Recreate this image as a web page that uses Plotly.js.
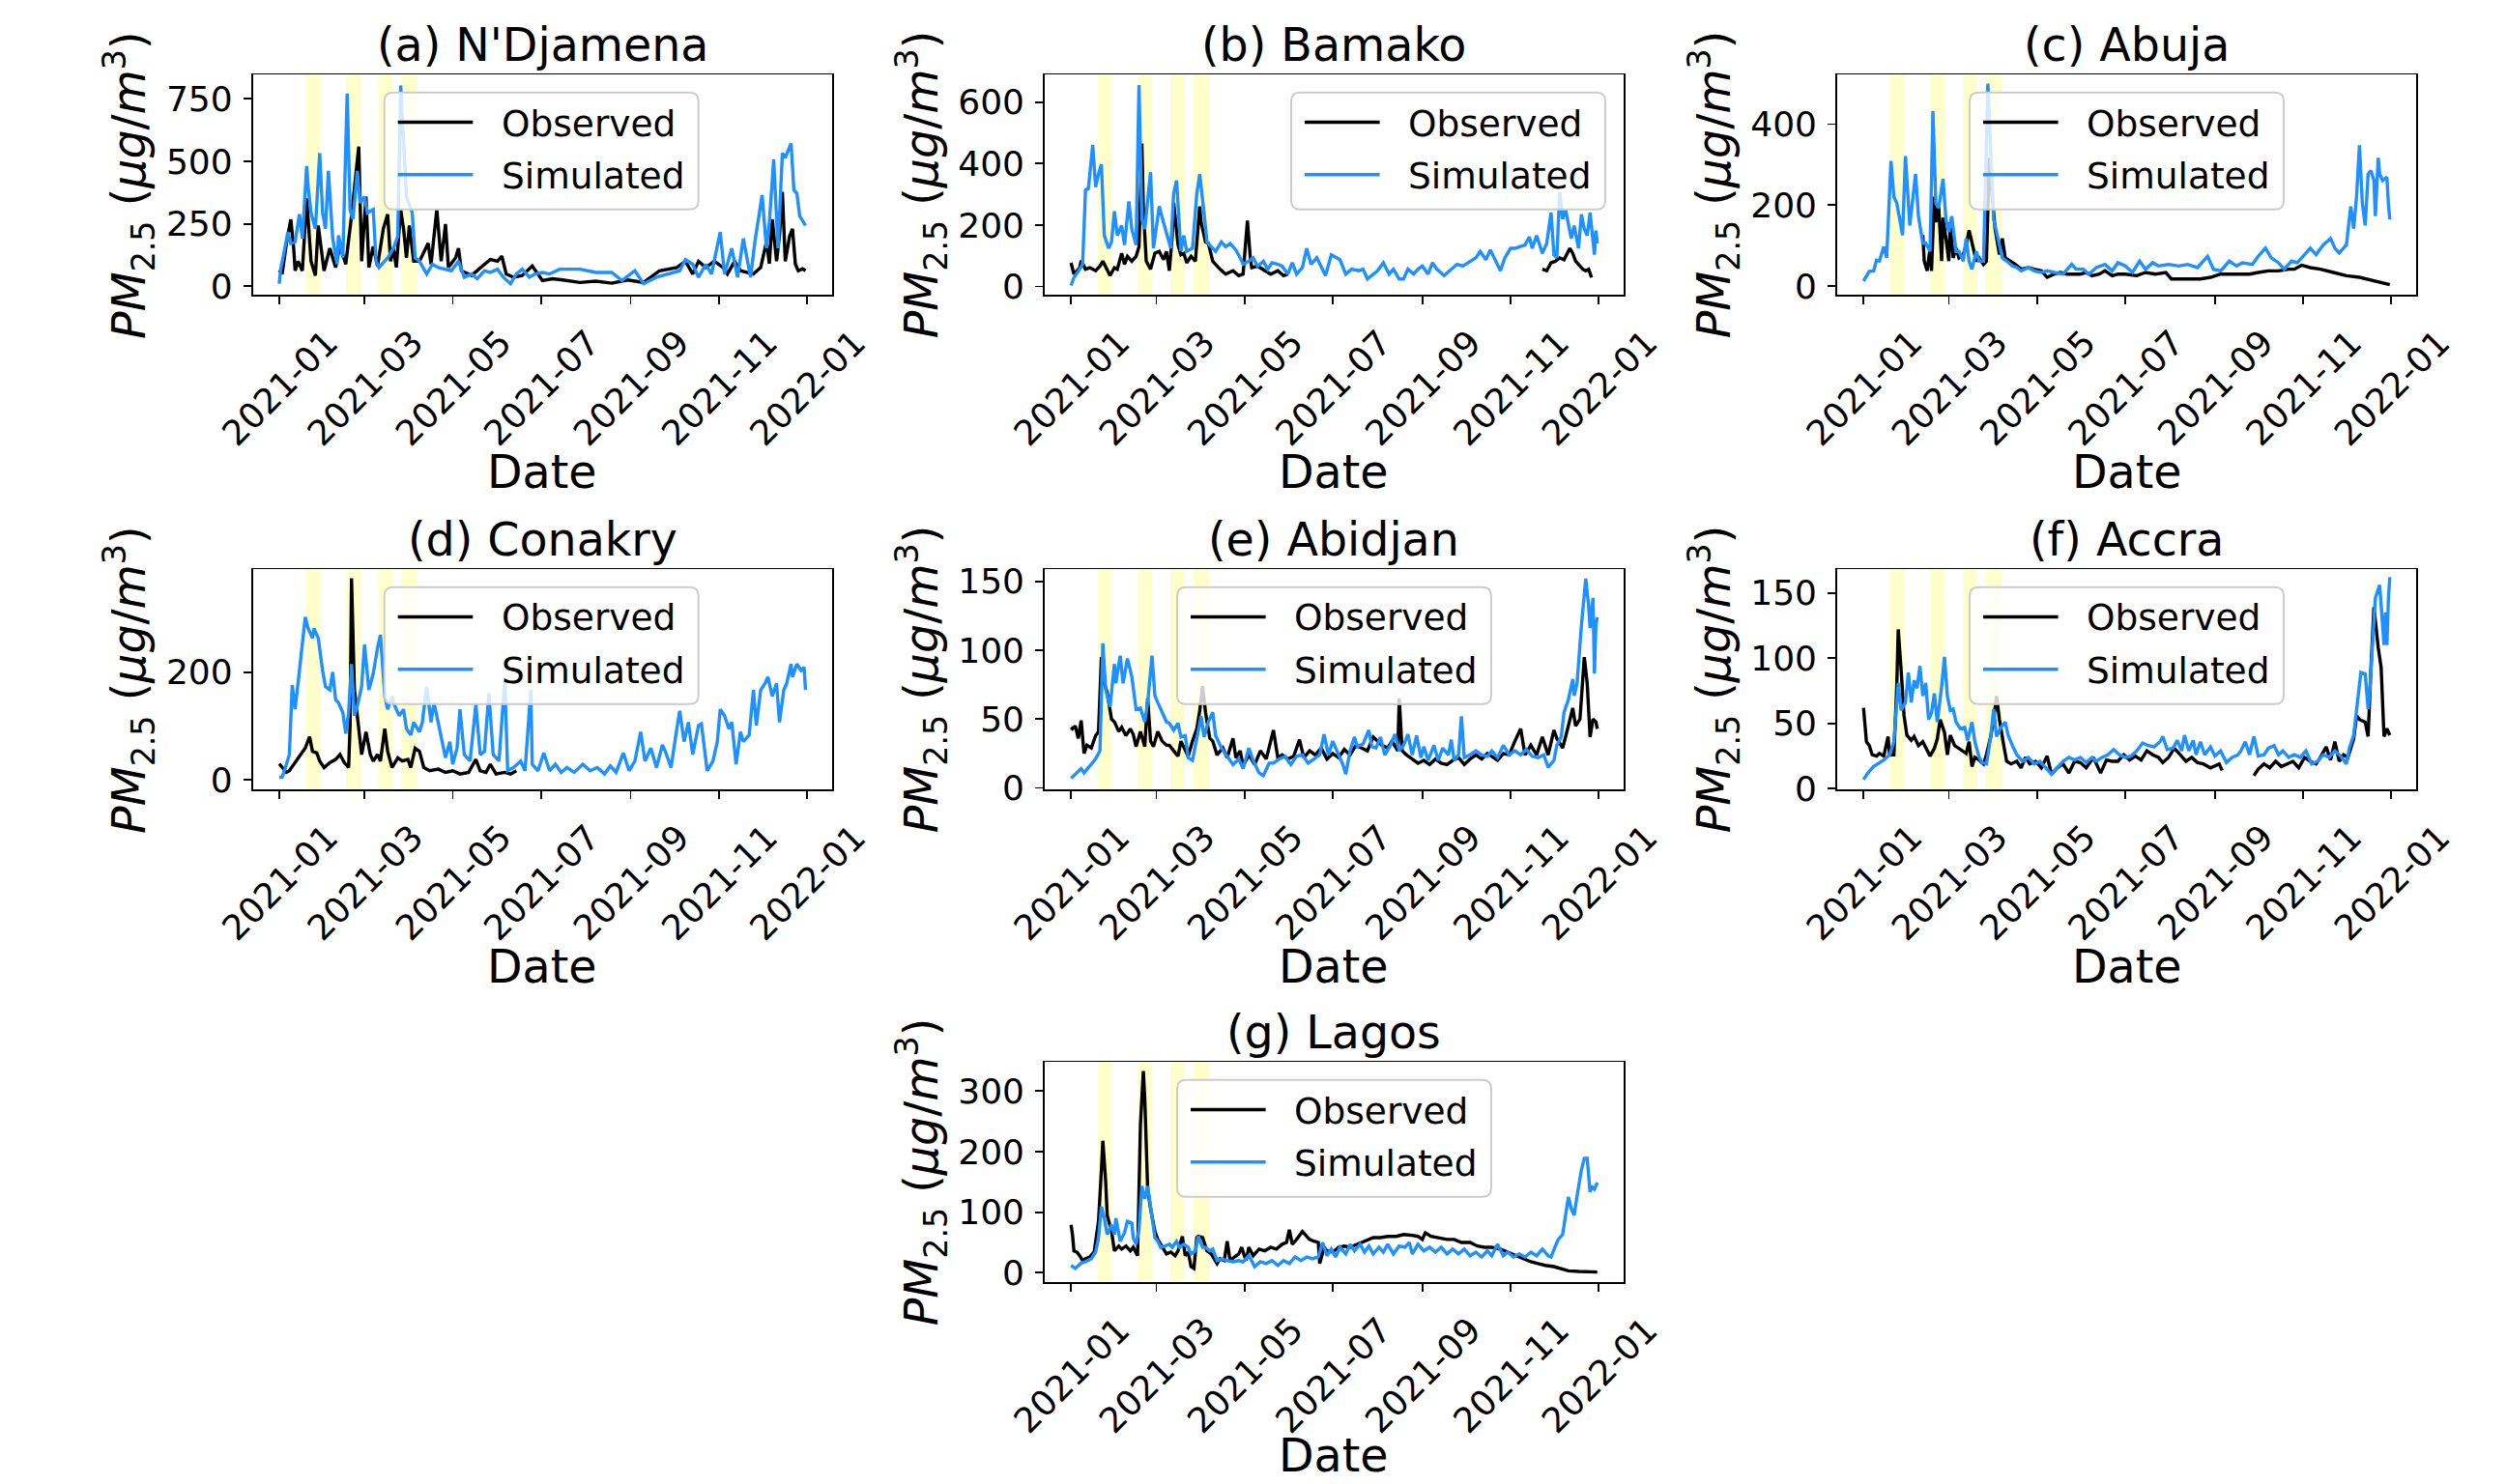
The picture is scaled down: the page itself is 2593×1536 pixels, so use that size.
<!DOCTYPE html>
<html><head><meta charset="utf-8">
<script src="https://cdn.plot.ly/plotly-3.0.1.min.js"></script>
<style>html,body{margin:0;padding:0;background:#fff}#chart{width:2593px;height:1536px}</style>
</head><body><div id="chart"></div>
<script>
// ---------------- DATA (day index counted from 2021-01-01) ----------------
const panelTitles = ["(a) N'Djamena","(b) Bamako","(c) Abuja","(d) Conakry","(e) Abidjan","(f) Accra","(g) Lagos"];
const seriesNames = ["Observed","Simulated"];
const xTickVals = ["2021-01-01","2021-03-01","2021-05-01","2021-07-01","2021-09-01","2021-11-01","2022-01-01"];
const xTickText = ["2021-01","2021-03","2021-05","2021-07","2021-09","2021-11","2022-01"];
const yTicksA = [0,250,500,750];
const yTicksB = [0,200,400,600];
const yTicksC = [0,200,400];
const yTicksD = [0,200];
const yTicksE = [0,50,100,150];
const yTicksF = [0,50,100,150];
const yTicksG = [0,100,200,300];
const bandStartDay = [18.5,46.5,68.7,84.4];
const bandEndDay = [28.3,56.3,78.5,95.5];

const aObsDay = [0,2,5,8,10,11,13,16,19,22,25,27,29,31,35,39,42,46,50,55,57,60,62,65,68,72,75,77,79,81,84,86,88,90,93,97,103,105,109,112,115,117,122,124,126,133,142,146,151,154,157,162,168,175,182,189,196,208,219,230,241,252,263,275,281,286,290,295,301,307,310,315,319,328,333,337,339,341,344,346,348,350,353,355,357,359,362,364];
const aObsVal = [65,49,172,268,152,62,100,62,352,100,43,243,152,62,152,75,165,88,281,559,100,359,75,159,81,230,288,100,152,75,307,230,114,243,100,100,172,88,307,100,249,75,114,152,62,43,88,107,100,120,49,36,43,81,23,30,25,15,20,12,25,15,62,75,100,49,100,75,100,75,49,100,62,49,75,178,90,268,100,204,378,100,200,230,88,62,70,62];
const aSimDay = [0,1,3,6,8,11,14,16,19,20,22,25,28,30,32,34,37,40,41,44,47,49,51,54,56,59,61,65,67,69,75,79,82,84,88,92,94,97,102,106,110,115,119,124,128,133,137,142,146,151,155,160,164,168,173,177,182,187,194,208,219,230,237,246,252,261,270,277,281,286,290,295,299,305,308,313,317,321,326,329,334,337,339,342,345,348,350,354,356,358,360,363,364];
const aSimVal = [10,68,126,217,172,178,288,191,481,397,294,230,533,294,230,462,191,88,204,114,772,307,268,462,333,359,294,307,100,75,114,152,200,804,359,294,114,100,49,88,75,68,62,100,36,49,30,62,55,68,36,10,49,68,36,49,55,49,68,68,55,55,23,62,10,36,49,62,107,88,36,88,49,217,49,152,36,191,36,178,365,152,255,507,152,533,514,572,385,372,281,255,243];

const bObsDay = [0,2,6,7,10,13,17,20,22,25,27,30,32,35,37,39,42,45,47,49,50,52,55,58,61,64,66,68,70,71,74,76,78,80,83,86,89,90,93,95,98,103,107,112,116,119,122,124,125,129,134,138,143,147,150,151,326,329,332,335,338,341,345,347,349,352,354,356,358,360];
const bObsVal = [77,40,61,84,56,61,51,66,82,51,35,61,56,108,72,98,82,98,129,466,256,82,56,108,114,87,114,51,166,272,135,103,108,77,98,82,261,208,145,140,82,56,40,51,35,40,214,93,61,66,51,40,51,35,40,null,56,51,77,82,93,87,124,108,82,66,56,51,56,29];
const bSimDay = [0,2,6,8,10,12,15,17,19,21,23,26,28,30,32,35,37,40,42,45,47,49,51,55,57,59,61,64,66,69,71,73,76,78,80,84,87,89,92,94,97,100,104,107,110,114,117,119,123,126,129,133,136,139,143,146,150,153,156,160,163,166,170,173,176,180,186,190,194,199,202,205,209,212,216,220,223,227,230,233,237,240,243,247,250,253,258,262,267,271,276,280,283,287,290,294,297,300,304,307,310,314,317,319,322,326,329,332,334,336,338,340,342,344,346,348,351,353,355,357,359,362,363,364];
const bSimVal = [3,29,56,72,314,319,461,324,366,398,166,124,145,245,166,198,135,277,187,135,656,219,187,372,124,187,261,208,177,124,303,345,114,166,114,124,303,366,240,145,129,114,145,129,140,119,93,72,82,93,66,82,56,77,72,66,40,77,40,61,124,72,93,61,35,103,87,40,56,51,56,24,40,51,77,40,56,24,24,56,40,56,66,40,77,56,35,51,72,66,82,93,114,87,119,82,51,93,124,124,129,135,161,124,166,108,140,240,103,93,308,219,251,198,156,198,124,235,187,166,240,103,182,140];

const cObsDay = [41,42,44,46,47,49,50,52,54,55,57,59,60,62,64,66,69,71,73,76,78,80,83,85,87,89,91,94,96,98,102,105,109,114,118,123,127,132,136,141,145,150,154,158,163,167,172,176,181,189,195,202,209,213,220,227,233,240,247,253,260,267,273,280,287,294,298,303,309,316,325,334,343,352,361,364];
const cObsVal = [126,62,38,94,38,221,158,197,62,169,118,62,158,70,94,70,78,102,138,94,62,70,54,62,317,221,142,78,118,70,62,54,42,46,42,38,22,30,34,30,30,30,34,26,30,38,26,30,30,26,34,30,34,18,18,18,18,22,30,30,30,30,34,38,38,42,42,52,46,42,34,26,22,14,6,4];
const cSimDay = [0,2,4,7,9,11,14,16,19,21,23,27,29,32,36,38,41,43,46,48,50,52,55,57,59,61,64,66,69,71,73,75,78,80,83,86,89,90,93,96,99,103,106,109,114,118,123,127,132,138,144,147,152,156,161,167,172,176,181,186,191,195,200,204,211,218,224,231,238,242,247,253,258,262,269,273,278,282,287,291,296,300,305,309,313,318,323,326,329,334,337,339,341,343,345,347,349,351,353,354,356,357,359,362,363,364];
const cSimVal = [13,26,37,38,64,62,98,70,309,221,205,126,321,150,277,173,106,106,86,432,205,193,265,165,134,173,86,86,62,118,62,42,86,62,62,500,277,165,118,70,62,50,46,38,46,38,34,38,34,30,54,42,42,30,46,54,38,58,50,34,62,42,58,50,54,50,54,46,74,42,38,62,50,58,54,74,94,70,58,42,62,58,78,94,78,102,118,94,82,102,197,142,221,348,205,150,277,285,261,173,317,277,261,269,205,165];

const dObsDay = [0,2,5,7,11,15,18,21,23,26,28,31,35,39,42,45,48,49,50,52,55,57,60,63,65,68,70,73,75,78,82,85,89,91,94,97,100,104,110,115,120,125,131,136,139,143,146,150,156,160,164];
const dObsVal = [30,23,14,17,32,47,59,80,53,50,35,23,32,38,47,32,23,101,374,167,95,47,89,47,35,47,35,95,53,23,41,35,38,23,59,53,23,17,20,14,17,11,14,38,17,14,29,11,14,11,17];
const dSimDay = [0,2,5,7,9,11,13,15,18,20,23,24,27,30,32,35,37,39,41,44,46,48,50,52,54,57,59,62,65,68,70,73,75,78,80,83,86,88,91,93,97,99,102,105,107,109,112,115,118,120,123,125,128,132,136,139,142,145,148,152,156,158,162,167,170,174,175,179,183,187,191,195,199,204,210,215,220,225,229,233,238,242,246,250,253,257,261,265,267,271,275,277,280,283,286,290,292,296,300,303,305,308,311,313,316,319,321,325,328,330,333,336,338,341,344,346,349,351,354,355,358,361,363,364];
const dSimVal = [5,5,29,47,176,131,179,233,302,281,263,281,263,203,173,167,200,149,143,125,86,125,215,119,137,173,251,167,197,245,269,155,131,155,137,119,131,95,83,107,89,107,173,107,143,119,77,41,71,29,59,131,47,35,140,47,53,161,47,35,185,17,23,35,17,167,29,17,50,17,29,14,23,14,29,17,23,11,26,14,50,17,35,89,35,59,23,65,53,23,95,128,71,107,47,101,104,17,35,71,131,119,95,107,29,89,71,83,167,101,167,179,191,155,179,107,167,179,215,191,215,203,209,167];

const eObsDay = [0,1,3,5,7,9,11,14,17,19,21,23,25,28,30,33,35,38,41,43,45,48,51,53,55,57,60,63,66,68,71,74,76,79,81,84,87,89,91,93,96,98,101,105,108,112,114,117,119,123,127,131,135,140,143,146,150,154,158,161,165,169,173,177,181,185,189,193,197,201,205,209,212,215,219,222,226,227,229,232,236,240,244,248,252,256,260,264,268,272,276,280,284,288,291,295,299,303,307,311,314,318,322,326,330,334,336,340,343,347,349,352,355,357,359,361,363,364];
const eObsVal = [44,43,45,36,49,25,31,29,38,41,95,76,69,50,48,41,44,38,43,39,30,41,30,65,34,30,41,34,31,31,27,23,34,27,23,34,43,56,74,55,36,34,24,29,22,36,22,27,16,24,17,27,21,42,22,24,21,23,35,22,27,24,29,21,25,22,28,24,31,29,27,37,34,31,29,34,27,65,27,24,21,18,20,17,21,18,17,20,22,17,21,24,21,25,23,20,25,24,34,43,24,31,24,37,24,42,36,29,41,58,45,50,95,76,37,50,48,43];
const eSimDay = [0,3,7,9,13,17,20,22,24,27,30,31,34,36,39,42,45,48,51,53,56,58,60,63,66,68,71,74,76,79,81,84,87,90,92,95,98,100,104,108,112,116,119,123,126,130,133,137,140,144,148,152,156,160,164,168,172,175,178,181,185,188,190,193,196,198,202,206,208,211,214,217,221,224,227,230,233,236,239,242,244,247,251,254,257,261,263,265,268,270,272,276,280,284,288,291,295,299,303,307,311,315,319,323,327,330,334,336,339,341,344,347,348,350,353,356,358,359,361,362,363,364];
const eSimVal = [7,10,14,11,16,21,27,105,71,59,90,76,96,76,94,81,57,58,48,62,96,67,62,55,48,47,42,47,37,38,22,20,36,52,37,48,55,38,29,23,17,21,14,29,20,11,9,18,18,21,23,17,23,24,18,21,24,39,24,34,25,17,10,27,37,30,32,42,30,29,37,24,31,39,27,31,39,24,38,22,30,20,31,20,29,24,35,20,24,52,22,24,27,24,23,27,22,31,24,27,24,28,23,22,24,15,20,31,37,55,64,79,67,76,118,152,132,116,138,83,118,124];

const fObsDay = [0,2,4,6,9,11,14,17,18,21,23,24,26,28,30,33,35,38,41,43,46,49,51,53,56,58,60,63,66,68,71,73,75,77,80,83,85,88,90,92,94,97,99,102,106,109,112,115,119,123,127,130,134,138,142,146,150,154,159,164,168,172,176,180,184,188,192,196,200,204,207,211,215,219,223,227,231,235,240,246,248,259,270,273,277,281,285,289,293,297,301,305,309,313,316,320,323,326,329,332,335,339,341,343,347,349,351,353,356,358,360,362,364];
const fObsVal = [62,36,33,26,25,27,25,40,26,26,79,122,91,56,41,37,40,33,36,31,25,31,38,53,43,26,41,33,31,29,27,36,17,24,22,19,26,40,53,71,53,33,21,19,21,16,24,19,21,16,25,11,16,19,12,21,20,16,24,12,22,21,21,26,22,25,22,29,26,24,20,24,31,26,21,24,20,19,16,19,14,null,10,15,19,16,21,17,19,21,16,24,21,19,24,32,22,36,21,26,24,38,56,53,51,40,93,139,108,93,40,46,41];
const fSimDay = [0,3,7,10,14,18,21,24,26,29,31,33,35,37,39,41,43,45,47,49,51,54,56,58,60,62,64,67,70,72,75,77,80,82,85,88,90,92,95,98,100,103,106,110,114,118,122,126,130,134,138,142,146,150,154,158,161,165,169,173,177,181,185,189,193,197,201,205,207,210,214,217,220,222,225,228,230,233,236,240,243,247,251,255,259,261,264,267,270,273,277,280,284,287,290,294,298,302,306,310,314,318,322,326,330,334,336,339,341,344,347,349,350,353,354,357,358,360,361,362,363,364];
const fSimVal = [7,12,17,19,22,26,36,81,60,66,89,66,83,77,94,71,81,53,58,73,51,78,101,71,60,61,51,46,47,37,51,36,24,20,19,40,61,40,47,51,41,33,26,21,24,19,21,16,11,16,21,24,22,24,20,24,21,24,26,30,26,24,25,29,35,33,32,36,40,30,31,37,29,41,29,37,26,36,26,32,25,29,20,24,26,29,36,26,40,25,26,31,33,26,29,24,26,24,29,19,21,26,24,29,25,19,31,41,60,89,88,61,73,123,146,156,138,110,135,110,145,162];

const gObsDay = [0,1,2,4,6,8,10,13,16,19,21,22,24,25,28,30,33,35,38,41,43,46,48,50,51,53,55,58,60,63,66,69,72,74,77,79,81,83,85,87,88,91,94,97,101,103,106,108,110,113,116,118,121,123,126,130,134,138,142,146,149,151,153,156,160,163,165,168,171,172,175,177,181,185,189,193,198,203,209,214,219,225,230,235,240,243,245,249,255,260,265,270,276,281,286,291,297,302,307,312,318,323,328,334,339,344,351,358,364];
const gObsVal = [79,63,36,34,28,20,23,26,34,85,170,218,149,95,68,36,44,39,44,36,42,28,245,333,288,138,106,68,55,42,31,34,28,36,60,28,34,10,7,58,60,58,36,31,15,23,20,52,20,26,31,42,20,42,28,39,36,42,39,47,50,71,47,55,68,60,55,52,50,15,42,36,34,42,44,42,47,52,58,58,60,60,63,62,60,55,66,60,58,55,55,50,50,44,42,42,39,34,28,23,18,15,12,10,7,3,2,1,1];
const gSimDay = [0,3,7,10,14,17,19,21,23,25,28,30,31,34,37,39,42,43,45,47,49,51,53,55,58,60,62,65,68,70,73,75,78,81,83,86,88,91,93,96,98,101,104,108,112,116,119,123,127,131,135,139,143,147,151,155,159,163,167,171,174,177,180,183,186,190,193,196,200,203,206,209,213,216,219,223,227,231,234,236,240,244,248,252,256,260,264,268,272,276,280,284,288,291,295,299,302,306,310,314,318,322,326,330,332,335,337,340,342,344,346,348,350,353,355,357,359,360,362,364];
const gSimVal = [12,7,16,18,23,34,58,109,90,63,79,63,90,52,66,85,82,58,47,71,143,122,143,111,58,52,42,44,47,42,52,42,47,42,31,36,60,42,42,36,39,20,23,20,18,20,18,28,10,18,15,20,12,20,15,26,20,26,23,26,50,28,39,26,42,31,47,36,47,34,44,31,42,34,47,31,44,42,50,31,47,36,42,34,42,31,39,31,39,28,34,26,36,28,47,28,34,26,31,26,34,28,39,28,26,44,55,63,95,125,106,95,127,170,189,189,133,143,138,149];

// ---------------- BUILD ----------------
const BASE = Date.UTC(2021,0,1);
function dayToDate(d){ return new Date(BASE + Math.round(d*86400000)).toISOString().slice(0,16).replace('T',' '); }

const obsDays = [aObsDay,bObsDay,cObsDay,dObsDay,eObsDay,fObsDay,gObsDay];
const obsVals = [aObsVal,bObsVal,cObsVal,dObsVal,eObsVal,fObsVal,gObsVal];
const simDays = [aSimDay,bSimDay,cSimDay,dSimDay,eSimDay,fSimDay,gSimDay];
const simVals = [aSimVal,bSimVal,cSimVal,dSimVal,eSimVal,fSimVal,gSimVal];
const yTicks = [yTicksA,yTicksB,yTicksC,yTicksD,yTicksE,yTicksF,yTicksG];
const seriesColors = ['#000000','#1E90FF'];

// layout geometry (pixels)
const W = 2593, H = 1536;
const colLeft = [261.7, 1081, 1901], plotW = 599;
const rowTop = [77.3, 589.3, 1099.3], plotH = 228;
const cell = [[0,0],[1,0],[2,0],[0,1],[1,1],[2,1],[1,2]]; // [col,row]
const yRanges = [[-35,847],[-28,690],[-21.5,522],[-18,390.5],[-1.2,158.7],[-0.7,168],[-16,348]];
const legendOffset = [136, 255, 137, 136, 137, 137, 137]; // px from plot left
const LEG_W = 325, LEG_H = 121, LEG_R = 9, LEG_TOP = 18.5;
const FONT = 'DejaVu Sans';
const xRange = [dayToDate(-18.2), dayToDate(364 + 18.2)];
const px = v => v / W, py = v => 1 - v / H;

const traces = [], shapes = [], annotations = [];
const layout = {
  width: W, height: H, margin: {l:0,r:0,t:0,b:0},
  paper_bgcolor: '#ffffff', plot_bgcolor: '#ffffff',
  font: {family: FONT, color: '#000000'},
  showlegend: false
};

function roundRectPath(x0, y0, w, h, r) {
  const x1 = x0 + w, y1 = y0 + h;
  const P = (x, y) => px(x).toFixed(6) + ',' + py(y).toFixed(6);
  return 'M' + P(x0 + r, y0) + ' L' + P(x1 - r, y0) + ' Q' + P(x1, y0) + ' ' + P(x1, y0 + r) +
         ' L' + P(x1, y1 - r) + ' Q' + P(x1, y1) + ' ' + P(x1 - r, y1) +
         ' L' + P(x0 + r, y1) + ' Q' + P(x0, y1) + ' ' + P(x0, y1 - r) +
         ' L' + P(x0, y0 + r) + ' Q' + P(x0, y0) + ' ' + P(x0 + r, y0) + ' Z';
}

for (let i = 0; i < 7; i++) {
  const n = i === 0 ? '' : String(i+1);
  const [c, r] = cell[i];
  const x0 = colLeft[c], y0 = rowTop[r];
  const xd = [px(x0), px(x0 + plotW)];
  const yd = [py(y0 + plotH), py(y0)];

  traces.push({
    type: 'scatter', mode: 'lines', name: seriesNames[0],
    x: obsDays[i].map(dayToDate), y: obsVals[i],
    xaxis: 'x' + n, yaxis: 'y' + n,
    line: {color: seriesColors[0], width: 3.4}, connectgaps: false
  });
  traces.push({
    type: 'scatter', mode: 'lines', name: seriesNames[1],
    x: simDays[i].map(dayToDate), y: simVals[i],
    xaxis: 'x' + n, yaxis: 'y' + n,
    line: {color: seriesColors[1], width: 3.4}, connectgaps: false
  });

  layout['xaxis' + n] = {
    domain: xd, anchor: 'y' + n, type: 'date', range: xRange,
    tickmode: 'array', tickvals: xTickVals, ticktext: xTickText,
    tickangle: -45, ticks: 'outside', ticklen: 8, tickwidth: 1.8, tickcolor: '#000',
    tickfont: {family: FONT, size: 36, color: '#000'},
    ticklabelshift: 50, ticklabelstandoff: 4,
    showline: true, mirror: true, linecolor: '#000', linewidth: 1.8,
    showgrid: false, zeroline: false
  };
  layout['yaxis' + n] = {
    domain: yd, anchor: 'x' + n, range: yRanges[i],
    tickmode: 'array', tickvals: yTicks[i],
    ticks: 'outside', ticklen: 8, tickwidth: 1.8, tickcolor: '#000',
    tickfont: {family: FONT, size: 36, color: '#000'},
    ticklabelstandoff: 4,
    showline: true, mirror: true, linecolor: '#000', linewidth: 1.8,
    showgrid: false, zeroline: false
  };

  for (let k = 0; k < bandStartDay.length; k++) {
    shapes.push({
      type: 'rect', xref: 'x' + n, yref: 'y' + n + ' domain',
      x0: dayToDate(bandStartDay[k]), x1: dayToDate(bandEndDay[k]), y0: 0, y1: 1,
      fillcolor: 'rgba(255,255,0,0.2)', line: {width: 0}, layer: 'below'
    });
  }

  // legend box (matplotlib style)
  const lx = x0 + legendOffset[i], ly = y0 + LEG_TOP;
  shapes.push({
    type: 'path', xref: 'paper', yref: 'paper', path: roundRectPath(lx, ly, LEG_W, LEG_H, LEG_R),
    fillcolor: 'rgba(255,255,255,0.8)', line: {color: '#cccccc', width: 2}, layer: 'above'
  });
  for (let s = 0; s < 2; s++) {
    const ey = ly + 30.7 + s * 54.3;
    shapes.push({
      type: 'line', xref: 'paper', yref: 'paper',
      x0: px(lx + 14), x1: px(lx + 91.6), y0: py(ey), y1: py(ey),
      line: {color: seriesColors[s], width: 3.4}, layer: 'above'
    });
    annotations.push({
      text: seriesNames[s], xref: 'paper', yref: 'paper', x: px(lx + 119), y: py(ey + 1),
      xanchor: 'left', yanchor: 'middle', showarrow: false,
      font: {family: FONT, size: 37.5, color: '#000'}
    });
  }

  const cx = px(x0 + plotW / 2);
  annotations.push({
    text: panelTitles[i], xref: 'paper', yref: 'paper', x: cx, y: py(y0 - 31),
    xanchor: 'center', yanchor: 'middle', showarrow: false,
    font: {family: FONT, size: 47.5, color: '#000'}
  });
  // x-axis label: keep its box inside the page
  const dateY = y0 + plotH + 183;
  const dateFits = dateY + 30 <= H;
  annotations.push({
    text: 'Date', xref: 'paper', yref: 'paper', x: cx,
    y: dateFits ? py(dateY) : 0,
    xanchor: 'center', yanchor: dateFits ? 'middle' : 'bottom', showarrow: false,
    font: {family: FONT, size: 47.5, color: '#000'}
  });
  annotations.push({
    text: '<i>PM</i><sub>2.5</sub> (<i>μg</i>/<i>m</i><sup>3</sup>)',
    xref: 'paper', yref: 'paper', x: px(x0 - 128), y: py(y0 + plotH / 2),
    xanchor: 'center', yanchor: 'middle', textangle: -90, showarrow: false,
    font: {family: FONT, size: 47.5, color: '#000'}
  });
}
layout.shapes = shapes;
layout.annotations = annotations;

Plotly.newPlot('chart', traces, layout, {staticPlot: true, displayModeBar: false});
</script></body></html>
